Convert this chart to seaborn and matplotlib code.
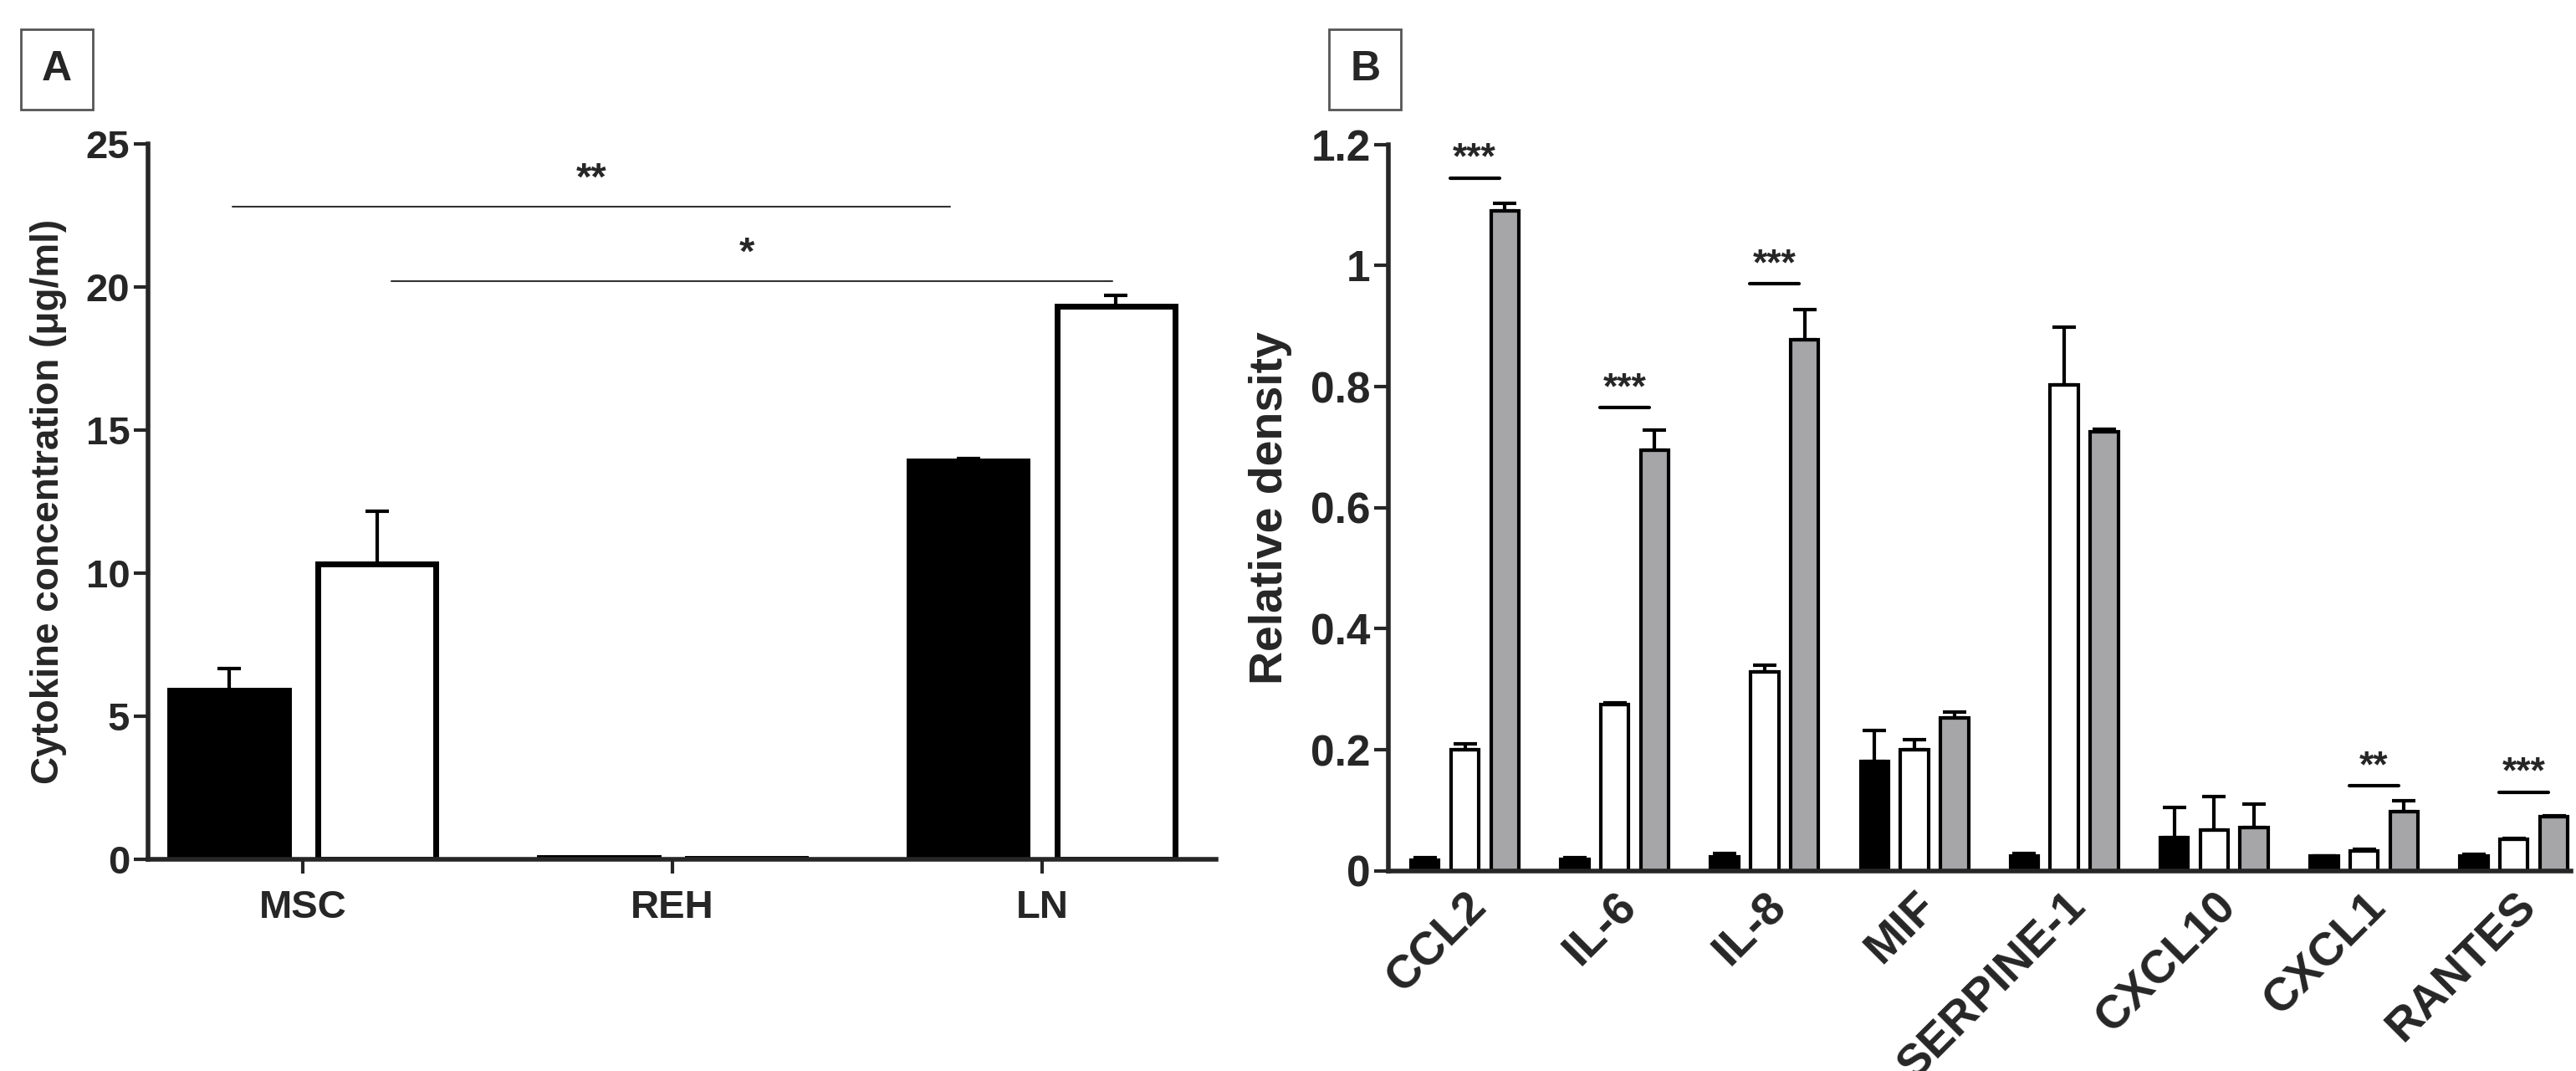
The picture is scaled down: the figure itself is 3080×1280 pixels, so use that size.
import numpy as np
import pandas as pd
import seaborn as sns
import matplotlib.pyplot as plt
from matplotlib.patches import Rectangle

sns.set_style("ticks")
plt.rcParams['font.family'] = ['Liberation Sans', 'DejaVu Sans']
plt.rcParams['font.weight'] = 'bold'

# Panel A data
a_cells = ['MSC', 'REH', 'LN']
a_black = [5.9, 0.05, 13.9]
a_black_err = [0.75, 0.0, 0.1]
a_white = [10.3, 0.03, 19.3]
a_white_err = [1.85, 0.0, 0.4]

# Panel B data
b_genes = ['CCL2', 'IL-6', 'IL-8', 'MIF', 'SERPINE-1', 'CXCL10', 'CXCL1', 'RANTES']
b_black = [0.018, 0.019, 0.023, 0.18, 0.024, 0.055, 0.024, 0.025]
b_black_err = [0.003, 0.002, 0.006, 0.052, 0.004, 0.05, 0.001, 0.002]
b_white = [0.2, 0.275, 0.328, 0.2, 0.803, 0.067, 0.033, 0.052]
b_white_err = [0.01, 0.003, 0.012, 0.017, 0.095, 0.055, 0.002, 0.001]
b_gray = [1.09, 0.695, 0.877, 0.252, 0.725, 0.072, 0.097, 0.089]
b_gray_err = [0.013, 0.033, 0.05, 0.01, 0.004, 0.038, 0.018, 0.002]
b_sig = {'CCL2': ('***', 1.145), 'IL-6': ('***', 0.765), 'IL-8': ('***', 0.97),
         'CXCL1': ('**', 0.14), 'RANTES': ('***', 0.13)}

fig = plt.figure(figsize=(30.8, 12.8), dpi=100)
axA = fig.add_axes([0.0574, 0.198, 0.4146, 0.668])
axB = fig.add_axes([0.539, 0.187, 0.459, 0.678])


def draw(ax, cats, series, errs, colors, gap, lw):
    rows = []
    for s, vals in enumerate(series):
        for c, v in zip(cats, vals):
            rows.append({'cat': c, 'grp': s, 'val': v})
    df = pd.DataFrame(rows)
    sns.barplot(data=df, x='cat', y='val', hue='grp', palette=colors, width=0.8,
                gap=gap, edgecolor='black', linewidth=lw, errorbar=None, legend=False, ax=ax)
    bars = [p for p in ax.patches if isinstance(p, Rectangle) and p.get_height() > 0]
    allerr = [e for es in errs for e in es]
    allval = [v for vs in series for v in vs]
    for p, v, e in zip(bars, allval, allerr):
        if e > 0:
            xc = p.get_x() + p.get_width() / 2
            ax.errorbar(xc, v, yerr=[[0], [e]], color='black', capsize=10, elinewidth=3, capthick=3)
    return bars


draw(axA, a_cells, [a_black, a_white], [a_black_err, a_white_err], ['black', 'white'], 0.2, 5)
axA.set_xlim(-0.42, 2.47)
axA.set_ylim(0, 25)
axA.set_yticks([0, 5, 10, 15, 20, 25])
axA.set_xlabel('')
axA.set_ylabel('Cytokine concentration (μg/ml)', fontsize=33, fontweight='bold', labelpad=16)
axA.tick_params(axis='y', labelsize=34, width=3, length=12)
axA.tick_params(axis='x', labelsize=34, width=3, length=12, pad=14)
axA.plot([-0.19, 1.75], [22.8, 22.8], color='#333333', lw=1.5)
axA.text(0.78, 23.1, '**', ha='center', va='bottom', fontsize=34, fontweight='bold')
axA.plot([0.24, 2.19], [20.2, 20.2], color='#333333', lw=1.5)
axA.text(1.2, 20.5, '*', ha='center', va='bottom', fontsize=34, fontweight='bold')

draw(axB, b_genes, [b_black, b_white, b_gray], [b_black_err, b_white_err, b_gray_err],
     ['black', 'white', '#a6a6a8'], 0.3, 3)
axB.set_xlim(-0.51, 7.38)
axB.set_ylim(0, 1.2)
axB.set_yticks([0, 0.2, 0.4, 0.6, 0.8, 1.0, 1.2])
axB.set_yticklabels(['0', '0.2', '0.4', '0.6', '0.8', '1', '1.2'])
axB.set_xlabel('')
axB.set_ylabel('Relative density', fontsize=40, fontweight='bold', labelpad=16)
axB.tick_params(axis='y', labelsize=37, width=3, length=12)
axB.tick_params(axis='x', labelsize=40, width=0, length=0, pad=12)
plt.setp(axB.get_xticklabels(), rotation=45, ha='right', rotation_mode='anchor')
for i, g in enumerate(b_genes):
    if g in b_sig:
        s, h = b_sig[g]
        axB.plot([i - 0.1, i + 0.23], [h, h], color='black', lw=3)
        axB.text(i + 0.065, h + 0.003, s, ha='center', va='bottom', fontsize=32, fontweight='bold')

for ax in (axA, axB):
    sns.despine(ax=ax)
    for sp in ('left', 'bottom'):
        ax.spines[sp].set_linewidth(4)

for label, x in (('A', 0.0075), ('B', 0.5155)):
    fig.text(x + 0.0145, 0.935, label, ha='center', va='center', fontsize=36, fontweight='bold',
             bbox=dict(boxstyle='square,pad=0.5', fc='white', ec='#555555', lw=2))

fig.savefig('out.png', dpi=100)
